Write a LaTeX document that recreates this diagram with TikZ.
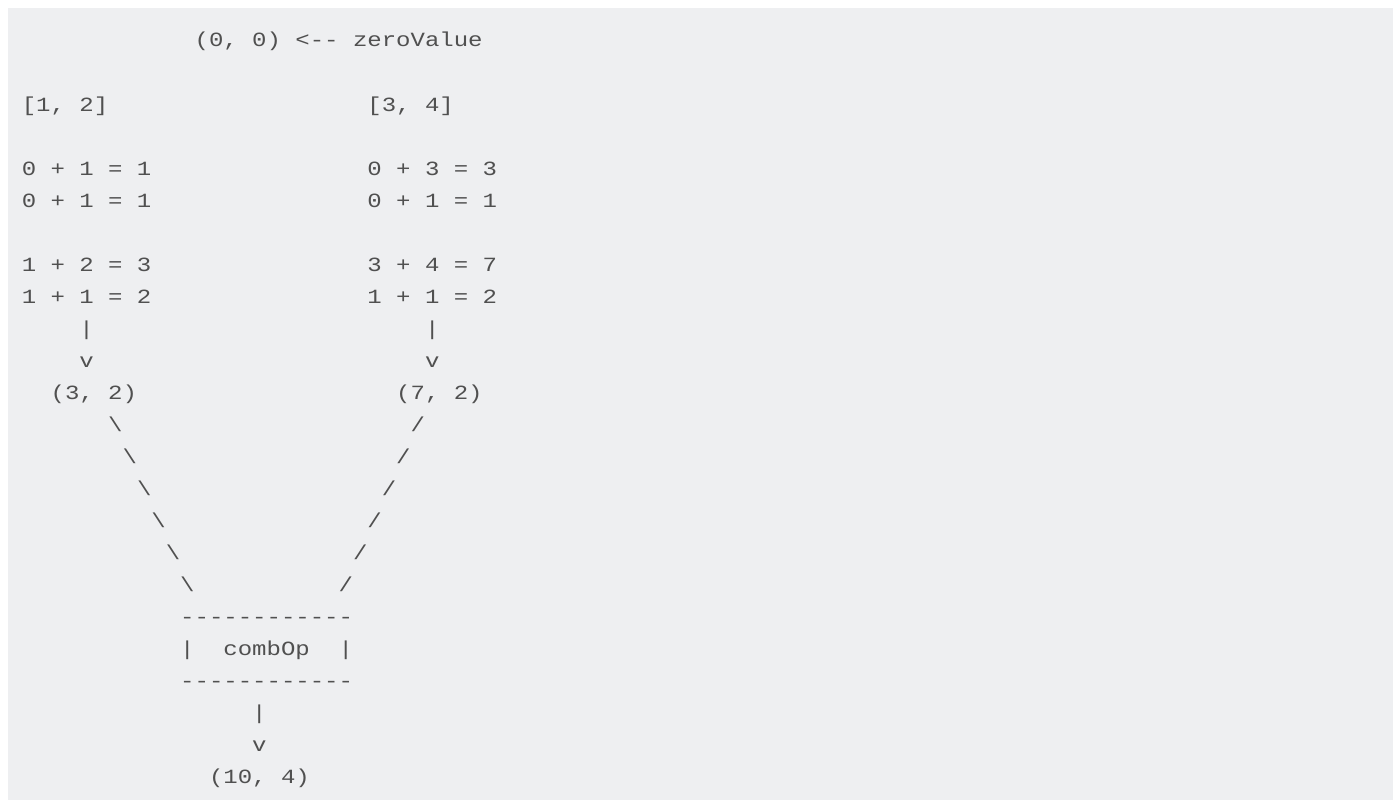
\documentclass[tikz,border=0pt]{standalone}
\usepackage{graphicx}
\usepackage{fontspec}
\setmonofont{Liberation Mono}
\definecolor{bgc}{HTML}{EEEFF1}
\definecolor{txc}{HTML}{505050}
\newcommand\vsq[1]{\scalebox{1}[0.84]{#1}}
\begin{document}
\begin{tikzpicture}[x=1pt,y=-1pt,
  t/.style={anchor=base west,inner sep=0pt,outer sep=0pt,text=txc,font=\ttfamily\fontsize{24}{24}\selectfont}]
\useasboundingbox (0,0) rectangle (1393,800);
\fill[white] (0,0) rectangle (1393,800);
\fill[bgc] (8,8) rectangle (1393,800);
\def\cx#1{21.8+14.4*#1}
% line 1
\node[t] (zero) at ({\cx{12}},47) {\vsq{(0, 0) <-- zeroValue}};
% partitions
\node[t] (pl) at ({\cx{0}},111) {\vsq{[1, 2]}};
\node[t] (pr) at ({\cx{24}},111) {\vsq{[3, 4]}};
\node[t] (l1) at ({\cx{0}},175) {\vsq{0 + 1 = 1}};
\node[t] (r1) at ({\cx{24}},175) {\vsq{0 + 3 = 3}};
\node[t] (l2) at ({\cx{0}},207) {\vsq{0 + 1 = 1}};
\node[t] (r2) at ({\cx{24}},207) {\vsq{0 + 1 = 1}};
\node[t] (l3) at ({\cx{0}},271) {\vsq{1 + 2 = 3}};
\node[t] (r3) at ({\cx{24}},271) {\vsq{3 + 4 = 7}};
\node[t] (l4) at ({\cx{0}},303) {\vsq{1 + 1 = 2}};
\node[t] (r4) at ({\cx{24}},303) {\vsq{1 + 1 = 2}};
\node[t] (lbar) at ({\cx{4}},335) {\vsq{|}};
\node[t] (rbar) at ({\cx{28}},335) {\vsq{|}};
\node[t] (lv) at ({\cx{4}},367) {\vsq{v}};
\node[t] (rv) at ({\cx{28}},367) {\vsq{v}};
\node[t] (lres) at ({\cx{2}},399) {\vsq{(3, 2)}};
\node[t] (rres) at ({\cx{26}},399) {\vsq{(7, 2)}};
\foreach \i in {0,...,5}{
  \node[t] (bs\i) at ({\cx{(6+\i)}},{431+32*\i}) {\vsq{\textbackslash}};
  \node[t] (sl\i) at ({\cx{(27-\i)}},{431+32*\i}) {\vsq{/}};
}
\node[t] (top) at ({\cx{11}},623) {\vsq{------------}};
\node[t] (cbl) at ({\cx{11}},655) {\vsq{|}};
\node[t] (comb) at ({\cx{14}},655) {\vsq{combOp}};
\node[t] (cbr) at ({\cx{22}},655) {\vsq{|}};
\node[t] (bot) at ({\cx{11}},687) {\vsq{------------}};
\node[t] (obar) at ({\cx{16}},719) {\vsq{|}};
\node[t] (ov) at ({\cx{16}},751) {\vsq{v}};
\node[t] (out) at ({\cx{13}},783) {\vsq{(10, 4)}};
\end{tikzpicture}
\end{document}
